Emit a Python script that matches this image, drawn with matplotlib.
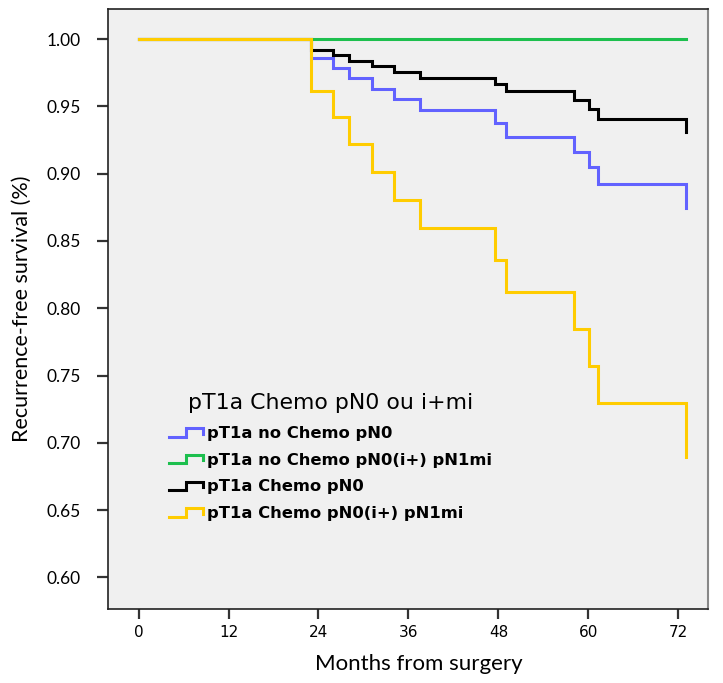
import numpy as np
import matplotlib.pyplot as plt
from matplotlib.lines import Line2D
from matplotlib.legend_handler import HandlerBase

# months at which the curves step (shared by the groups)
months = [0, 23, 26, 28.1, 31.2, 34.1, 37.6, 47.5, 49.0, 58.1, 60.1, 61.3, 73.0]

surv_no_chemo_pn0 = [1.0, 0.986, 0.9785, 0.9708, 0.9626, 0.9552, 0.947, 0.9374,
                     0.9274, 0.916, 0.9047, 0.8923, 0.8742]
months_green = [0, 73.0]
surv_no_chemo_pn0i = [1.0, 1.0]
surv_chemo_pn0 = [1.0, 0.9918, 0.9884, 0.9839, 0.980, 0.9757, 0.9713, 0.9663,
                  0.9611, 0.9547, 0.9478, 0.9408, 0.9307]
surv_chemo_pn0i = [1.0, 0.9614, 0.9418, 0.9218, 0.9012, 0.8804, 0.8598, 0.8358,
                   0.8123, 0.7846, 0.7573, 0.7298, 0.6892]

labels = ["pT1a no Chemo pN0", "pT1a no Chemo pN0(i+) pN1mi",
          "pT1a Chemo pN0", "pT1a Chemo pN0(i+) pN1mi"]
colors = ["#6262FF", "#1DBF4E", "#000000", "#FFCC00"]
legend_title = "pT1a Chemo pN0 ou i+mi"

x_ticks = [0, 12, 24, 36, 48, 60, 72]
y_ticks = [0.60, 0.65, 0.70, 0.75, 0.80, 0.85, 0.90, 0.95, 1.00]


class StepHandler(HandlerBase):
    # little step icon like the SPSS legend
    def create_artists(self, legend, orig, xd, yd, w, h, fontsize, trans):
        xs = np.array([0, 0.5, 0.5, 1.0, 1.0]) * w - xd
        ys = np.array([0.1, 0.1, 0.85, 0.85, 0.35]) * h - yd
        ln = Line2D(xs, ys, color=orig.get_color(), lw=2.2,
                    solid_joinstyle="miter", transform=trans)
        return [ln]


fig = plt.figure(figsize=(7.23, 6.83), dpi=100)
ax = fig.add_axes([0.1498, 0.1079, 0.830, 0.8789])
ax.set_facecolor("#F0F0F0")

series = [(months, surv_no_chemo_pn0), (months_green, surv_no_chemo_pn0i),
          (months, surv_chemo_pn0), (months, surv_chemo_pn0i)]
handles = []
for (t, s), lab, c in zip(series, labels, colors):
    h, = ax.plot(t, s, drawstyle="steps-post", color=c, lw=2.2, label=lab,
                 solid_joinstyle="miter")
    handles.append(h)

ax.set_xlim(-4.03, 76.0)
ax.set_ylim(0.5763, 1.0223)
ax.set_xticks(x_ticks)
ax.set_xticklabels([str(v) for v in x_ticks],
                   family=["Liberation Sans Narrow", "DejaVu Sans"], fontsize=11)
ax.set_yticks(y_ticks)
ax.set_yticklabels([f"{v:.2f}" for v in y_ticks], family="Lato", fontsize=12.5)
ax.tick_params(axis="x", length=7, width=1.6, color="#333333", pad=4)
ax.tick_params(axis="y", length=8, width=1.6, color="#333333", pad=12)

for side in ["left", "bottom", "top"]:
    ax.spines[side].set_color("#222222")
    ax.spines[side].set_linewidth(1.2)
ax.spines["right"].set_color("#888888")
ax.spines["right"].set_linewidth(1.5)

ax.set_xlabel("Months from surgery", family="Lato", fontsize=16)
ax.xaxis.set_label_coords(0.518, -0.075)
ax.set_ylabel("Recurrence-free survival (%)", family="Lato", fontsize=15.5)
ax.yaxis.set_label_coords(-0.128, 0.5)

leg = ax.legend(handles=handles, labels=labels, loc="upper left",
                bbox_to_anchor=(0.101, 0.36), frameon=False,
                handler_map={Line2D: StepHandler()},
                handlelength=2.1, handletextpad=0.25, labelspacing=0.72,
                borderpad=0, borderaxespad=0,
                prop={"family": "DejaVu Sans", "weight": "bold", "size": 11.8},
                title=legend_title,
                title_fontproperties={"family": "DejaVu Sans", "size": 15.8})
leg._legend_box.sep = 9

fig.savefig("out.png", dpi=100)
